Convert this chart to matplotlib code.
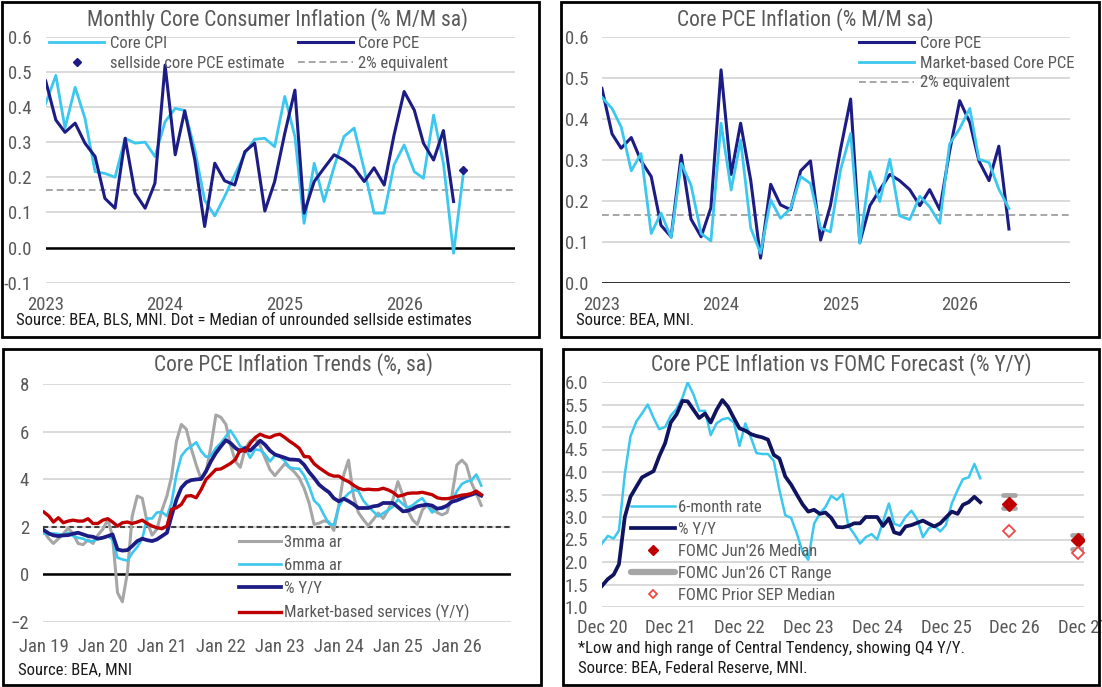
import matplotlib
matplotlib.use('Agg')
import matplotlib.pyplot as plt
import matplotlib.dates as mdates
from matplotlib import font_manager
from matplotlib.patches import Rectangle
from matplotlib.lines import Line2D
import pandas as pd

W, H = 1102, 687

# ---- panel 1 / 2: monthly m/m, from Jan 2023
core_pce = [0.474, 0.363, 0.328, 0.354, 0.297, 0.259, 0.140, 0.112, 0.311, 0.155, 0.112, 0.183,
            0.519, 0.264, 0.389, 0.249, 0.060, 0.240, 0.190, 0.178, 0.273, 0.297, 0.104, 0.188,
            0.325, 0.448, 0.098, 0.188, 0.226, 0.264, 0.249, 0.227, 0.188, 0.227, 0.178, 0.320,
            0.444, 0.391, 0.297, 0.249, 0.333, 0.131]
core_cpi = [0.410, 0.490, 0.340, 0.456, 0.368, 0.216, 0.211, 0.200, 0.311, 0.297, 0.300, 0.259,
            0.358, 0.396, 0.390, 0.278, 0.135, 0.090, 0.145, 0.207, 0.268, 0.308, 0.311, 0.287,
            0.430, 0.316, 0.069, 0.240, 0.131, 0.230, 0.316, 0.340, 0.221, 0.098, 0.098, 0.235,
            0.292, 0.216, 0.197, 0.377, 0.240, -0.016, 0.211]
market_pce = [0.452, 0.425, 0.380, 0.273, 0.315, 0.120, 0.170, 0.110, 0.291, 0.238, 0.120, 0.102,
              0.389, 0.226, 0.348, 0.133, 0.072, 0.202, 0.157, 0.181, 0.259, 0.242, 0.133, 0.124,
              0.275, 0.364, 0.096, 0.271, 0.198, 0.301, 0.163, 0.154, 0.211, 0.185, 0.145, 0.338,
              0.376, 0.425, 0.301, 0.293, 0.228, 0.181]
sellside_date = ['2026-07-01']
sellside_est = [0.22]
two_pct_mm = 0.165

# ---- panel 3: trends, from Jan 2019
gray3 = [1.80, 1.50, 1.30, 1.50, 1.70, 1.95, 1.70, 1.30, 1.25, 1.45, 1.30, 1.65,
         1.90, 2.30, 1.60, -0.77, -1.15, 0.07, 2.45, 3.29, 3.20, 2.20, 1.65, 1.90,
         2.70, 3.30, 4.10, 5.60, 6.30, 6.10, 5.30, 4.60, 4.00, 4.30, 5.40, 6.70,
         6.60, 6.30, 5.45, 4.75, 4.50, 5.30, 5.60, 5.70, 5.40, 4.90, 4.40, 4.15,
         4.40, 4.65, 4.50, 4.30, 4.05, 3.60, 3.00, 2.10, 2.15, 2.25, 2.20, 1.85,
         2.90, 4.20, 4.80, 3.30, 2.60, 2.30, 2.05, 2.30, 2.58, 2.35, 2.70, 3.15,
         3.90, 3.30, 2.70, 2.30, 2.10, 2.70, 2.93, 2.75, 2.60, 2.50, 2.60, 3.30,
         4.60, 4.80, 4.60, 3.85, 3.40, 2.90]
cyan3 = [1.72, 1.68, 1.72, 1.70, 1.64, 1.75, 1.61, 1.54, 1.50, 1.40, 1.40, 1.50,
         1.54, 1.61, 1.47, 0.70, 0.63, 0.58, 0.90, 1.15, 1.50, 2.35, 2.35, 2.60,
         2.62, 2.45, 3.00, 4.20, 4.97, 5.24, 5.38, 5.55, 5.17, 4.94, 4.99, 5.31,
         5.52, 5.80, 6.05, 5.73, 5.38, 5.30, 4.90, 5.25, 5.22, 5.04, 4.75, 5.00,
         4.95, 4.76, 4.50, 4.45, 4.44, 4.15, 3.70, 3.10, 2.90, 2.50, 2.13, 2.08,
         2.85, 3.20, 3.40, 3.56, 3.50, 3.10, 2.86, 2.65, 2.44, 2.57, 2.70, 2.85,
         3.15, 2.95, 2.80, 2.90, 3.07, 3.20, 2.90, 2.60, 2.78, 2.75, 2.85, 3.10,
         3.50, 3.80, 3.90, 3.95, 4.20, 3.73]
yy3 = [1.86, 1.72, 1.64, 1.61, 1.64, 1.65, 1.71, 1.75, 1.68, 1.61, 1.58, 1.50,
       1.54, 1.61, 1.68, 1.05, 1.00, 1.02, 1.19, 1.40, 1.50, 1.44, 1.40, 1.47,
       1.61, 1.75, 2.45, 3.15, 3.64, 3.87, 3.96, 3.99, 4.01, 4.34, 4.76, 5.10,
       5.38, 5.64, 5.52, 5.31, 5.17, 5.31, 5.20, 5.40, 5.62, 5.45, 5.20, 5.04,
       4.97, 4.90, 4.83, 4.82, 4.80, 4.60, 4.30, 4.05, 3.77, 3.60, 3.45, 3.20,
       3.07, 3.18, 3.08, 2.95, 2.79, 2.79, 2.79, 2.86, 2.89, 3.00, 3.00, 3.00,
       2.83, 2.65, 2.67, 2.75, 2.86, 2.90, 2.93, 2.89, 2.76, 2.80, 2.89, 3.05,
       3.11, 3.20, 3.28, 3.35, 3.42, 3.31]
red3 = [2.62, 2.45, 2.20, 2.38, 2.17, 2.24, 2.28, 2.24, 2.24, 2.34, 2.14, 2.14,
        2.28, 2.34, 2.20, 2.03, 2.17, 2.20, 2.14, 2.20, 2.28, 2.14, 2.03, 1.96,
        1.92, 2.03, 2.73, 2.80, 2.94, 3.29, 3.31, 3.22, 3.57, 3.99, 4.20, 4.41,
        4.43, 4.55, 4.66, 4.83, 5.24, 5.17, 5.50, 5.75, 5.89, 5.80, 5.75, 5.85,
        5.89, 5.75, 5.60, 5.46, 5.30, 4.95, 4.94, 4.65, 4.48, 4.34, 4.20, 4.13,
        4.13, 3.99, 3.90, 3.75, 3.62, 3.56, 3.58, 3.56, 3.56, 3.62, 3.55, 3.45,
        3.28, 3.33, 3.40, 3.42, 3.42, 3.45, 3.40, 3.35, 3.22, 3.18, 3.18, 3.22,
        3.28, 3.33, 3.35, 3.40, 3.50, 3.35]
target = 2.0

# ---- panel 4: vs FOMC, from Dec 2020
six4 = [2.41, 2.58, 2.52, 2.70, 3.95, 4.79, 5.12, 5.30, 5.50, 5.20, 4.95, 5.00,
        5.25, 5.40, 5.65, 5.99, 5.72, 5.36, 5.36, 4.82, 5.08, 5.17, 5.20, 5.10,
        4.58, 5.08, 4.75, 4.42, 4.40, 4.40, 4.25, 3.60, 3.04, 2.98, 2.64, 2.22,
        2.05, 2.85, 3.08, 3.22, 3.47, 3.38, 3.51, 2.80, 2.62, 2.41, 2.55, 2.62,
        2.50, 2.90, 3.30, 2.85, 2.80, 3.00, 3.14, 2.95, 2.55, 2.75, 2.80, 2.68,
        2.82, 3.30, 3.60, 3.84, 3.88, 4.18, 3.86]
yy4 = [1.47, 1.62, 1.72, 1.95, 3.00, 3.45, 3.67, 3.88, 3.95, 4.02, 4.35, 4.64,
       5.10, 5.28, 5.58, 5.57, 5.38, 5.20, 5.30, 5.10, 5.38, 5.60, 5.45, 5.20,
       4.97, 4.92, 4.84, 4.80, 4.77, 4.72, 4.38, 4.30, 3.90, 3.72, 3.50, 3.28,
       3.12, 3.16, 3.07, 3.10, 2.98, 2.78, 2.77, 2.80, 2.86, 2.86, 3.00, 3.00,
       3.00, 2.80, 2.97, 2.66, 2.62, 2.79, 2.82, 2.87, 2.92, 2.85, 2.79, 2.86,
       2.99, 3.12, 3.07, 3.27, 3.33, 3.45, 3.33]
sep_dates = ['2026-11-01', '2027-11-01']
jun_median = [3.3, 2.5]
ct_low = [3.2, 2.3]
ct_high = [3.5, 2.6]
prior_median = [2.7, 2.2]

CYAN = '#3CC8EE'
NAVY = '#1C1C84'
NAVY2 = '#10135E'
RED = '#C00000'
GRAY = '#A6A6A6'
GRID = '#D9D9D9'
TXT = '#595959'


def pick_font():
    names = {f.name for f in font_manager.fontManager.ttflist}
    for name in ['Liberation Sans Narrow', 'Roboto Condensed', 'Open Sans Condensed']:
        if name in names:
            return name, 1.0
    return 'Liberation Sans', 0.84


FONT, k = pick_font()
plt.rcParams['font.family'] = [FONT, 'DejaVu Sans']
TITLE_FS = 15.5 * k
TICK_FS = 13.5 * k
LEG_FS = 12 * k
SRC_FS = 12 * k

fig = plt.figure(figsize=(W / 100, H / 100), dpi=100)


def px_axes(left, top, right, bottom):
    return fig.add_axes([left / W, 1 - bottom / H, (right - left) / W, (bottom - top) / H])


def ftext(x, y, s, **kw):
    fig.text(x / W, 1 - y / H, s, va='center', **kw)


def style(ax, xpad):
    for sp in ax.spines.values():
        sp.set_visible(False)
    ax.yaxis.grid(True, color=GRID, lw=1.4)
    ax.set_axisbelow(True)
    ax.tick_params(length=0, labelsize=TICK_FS, labelcolor=TXT)
    ax.tick_params(axis='y', pad=10)
    ax.tick_params(axis='x', pad=xpad)


def legend_at(ax, handles, labels, x, y, **kw):
    leg = ax.legend(handles, labels, loc='upper left', bbox_to_anchor=(x / W, 1 - y / H),
                    bbox_transform=fig.transFigure, frameon=False, borderpad=0,
                    borderaxespad=0, fontsize=LEG_FS, **kw)
    for t in leg.get_texts():
        t.set_color(TXT)
    return leg


# panel borders
for (l, t, r, b) in [(2, 2, 539, 337), (561, 2, 1099, 337), (3, 349, 541, 685), (563, 349, 1099, 685)]:
    fig.add_artist(Rectangle((l / W, 1 - b / H), (r - l) / W, (b - t) / H, transform=fig.transFigure,
                             fill=False, ec='black', lw=2))

# ---------------- panel 1
d_pce = pd.date_range('2023-01-01', periods=len(core_pce), freq='MS')
d_cpi = pd.date_range('2023-01-01', periods=len(core_cpi), freq='MS')
ax1 = px_axes(45.7, 36.7, 514.7, 282.7)
style(ax1, 9.5)
ax1.axhline(0, color='black', lw=1.8, zorder=1)
h_2 = ax1.axhline(two_pct_mm, color=GRAY, lw=1.4, dashes=(3.5, 2), zorder=1)
h_cpi, = ax1.plot(d_cpi, core_cpi, color=CYAN, lw=2.0)
h_pce, = ax1.plot(d_pce, core_pce, color=NAVY, lw=2.2)
h_est, = ax1.plot(pd.to_datetime(sellside_date), sellside_est, 'D', color=NAVY, ms=4.5, ls='none')
ax1.set_ylim(-0.1, 0.6)
ax1.set_yticks([-0.1, 0.0, 0.1, 0.2, 0.3, 0.4, 0.5, 0.6])
ax1.yaxis.set_major_formatter(matplotlib.ticker.FormatStrFormatter('%.1f'))
ax1.set_xlim(pd.Timestamp('2023-01-01'), pd.Timestamp('2026-12-05'))
ax1.xaxis.set_major_locator(mdates.YearLocator())
ax1.xaxis.set_major_formatter(mdates.DateFormatter('%Y'))
legend_at(ax1, [h_cpi, h_est, h_pce, h_2],
          ['Core CPI', 'sellside core PCE estimate', 'Core PCE', '2% equivalent'],
          49, 36, ncol=2, handlelength=3.3, handletextpad=0.35, columnspacing=0.8,
          labelspacing=0.28, numpoints=1)
ftext(277.6, 20, 'Monthly Core Consumer Inflation (% M/M sa)', ha='center', fontsize=TITLE_FS, color=TXT)
ftext(16, 320, 'Source: BEA, BLS, MNI. Dot = Median of unrounded sellside estimates', ha='left',
      fontsize=SRC_FS, color='#1A1A1A')

# ---------------- panel 2
d_mkt = pd.date_range('2023-01-01', periods=len(market_pce), freq='MS')
ax2 = px_axes(601.9, 36.7, 1070, 282.7)
style(ax2, 9.5)
ax2.axhline(0, color='black', lw=1.8, zorder=1)
h2_2 = ax2.axhline(two_pct_mm, color=GRAY, lw=1.4, dashes=(3.5, 2), zorder=1)
h2_pce, = ax2.plot(d_pce, core_pce, color=NAVY, lw=2.2)
h2_mkt, = ax2.plot(d_mkt, market_pce, color=CYAN, lw=2.0)
ax2.set_ylim(0, 0.6)
ax2.set_yticks([0.0, 0.1, 0.2, 0.3, 0.4, 0.5, 0.6])
ax2.yaxis.set_major_formatter(matplotlib.ticker.FormatStrFormatter('%.1f'))
ax2.set_xlim(pd.Timestamp('2023-01-01'), pd.Timestamp('2026-12-05'))
ax2.xaxis.set_major_locator(mdates.YearLocator())
ax2.xaxis.set_major_formatter(mdates.DateFormatter('%Y'))
legend_at(ax2, [h2_pce, h2_mkt, h2_2], ['Core PCE', 'Market-based Core PCE', '2% equivalent'],
          859, 36, handlelength=3.3, handletextpad=0.35, labelspacing=0.28)
ftext(805.7, 20, 'Core PCE Inflation (% M/M sa)', ha='center', fontsize=TITLE_FS, color=TXT)
ftext(576, 320, 'Source: BEA, MNI.', ha='left', fontsize=SRC_FS, color='#1A1A1A')

# ---------------- panel 3
d3 = pd.date_range('2019-01-01', periods=len(yy3), freq='MS')
ax3 = px_axes(42.9, 384, 511, 622)
style(ax3, 11.5)
ax3.axhline(0, color='black', lw=1.8, zorder=1)
ax3.axhline(target, color='#404040', lw=1.5, dashes=(2.5, 1.6), zorder=1)
h3_g, = ax3.plot(d3, gray3, color=GRAY, lw=2.2)
h3_c, = ax3.plot(d3, cyan3, color=CYAN, lw=1.9)
h3_n, = ax3.plot(d3, yy3, color=NAVY, lw=2.7)
h3_r, = ax3.plot(d3, red3, color=RED, lw=2.4)
ax3.set_ylim(-2, 8)
ax3.set_yticks([-2, 0, 2, 4, 6, 8])
ax3.set_xlim(pd.Timestamp('2018-12-26'), pd.Timestamp('2026-12-02'))
ax3.xaxis.set_major_locator(mdates.YearLocator())
ax3.xaxis.set_major_formatter(mdates.DateFormatter('%b %y'))
legend_at(ax3, [h3_g, h3_c, h3_n, h3_r], ['3mma ar', '6mma ar', '% Y/Y', 'Market-based services (Y/Y)'],
          239, 535, handlelength=2.5, handletextpad=0.2, labelspacing=0.48)
ftext(293, 365, 'Core PCE Inflation Trends (%, sa)', ha='center', fontsize=TITLE_FS, color=TXT)
ftext(18, 670, 'Source: BEA, MNI', ha='left', fontsize=SRC_FS, color='#1A1A1A')

# ---------------- panel 4
d4 = pd.date_range('2020-12-01', periods=len(yy4), freq='MS')
ds = pd.to_datetime(sep_dates)
ax4 = px_axes(602, 382, 1084, 607)
style(ax4, 8.5)
h4_c, = ax4.plot(d4, six4, color=CYAN, lw=1.8)
h4_n, = ax4.plot(d4, yy4, color=NAVY2, lw=2.7)
half = pd.Timedelta(days=30)
ax4.hlines(ct_high, ds - half, ds + half, colors=GRAY, lw=3.4, capstyle='round', zorder=3)
ax4.hlines(ct_low, ds - half, ds + half, colors=GRAY, lw=3.4, capstyle='round', zorder=3)
h4_m, = ax4.plot(ds, jun_median, 'D', color=RED, ms=7.5, ls='none', zorder=4)
h4_p, = ax4.plot(ds, prior_median, 'D', mfc='white', mec='#F04848', mew=1.3, ms=6.2, ls='none', zorder=4)
h4_ct = Line2D([], [], color=GRAY, lw=4.5, solid_capstyle='round')
ax4.set_ylim(1.0, 6.0)
ax4.set_yticks([1.0, 1.5, 2.0, 2.5, 3.0, 3.5, 4.0, 4.5, 5.0, 5.5, 6.0])
ax4.yaxis.set_major_formatter(matplotlib.ticker.FormatStrFormatter('%.1f'))
ax4.set_xlim(pd.Timestamp('2020-12-01'), pd.Timestamp('2027-12-04'))
ax4.xaxis.set_major_locator(mdates.MonthLocator(bymonth=12))
ax4.xaxis.set_major_formatter(mdates.DateFormatter('%b %y'))
legend_at(ax4, [h4_c, h4_n, h4_m, h4_ct, h4_p],
          ['6-month rate', '% Y/Y', "FOMC Jun'26 Median", "FOMC Jun'26 CT Range", 'FOMC Prior SEP Median'],
          631, 500, handlelength=2.65, handletextpad=0.15, labelspacing=0.42, numpoints=1, markerscale=0.65)
ftext(841.6, 365, 'Core PCE Inflation vs FOMC Forecast (% Y/Y)', ha='center', fontsize=TITLE_FS, color=TXT)
ftext(578, 648, '*Low and high range of Central Tendency, showing Q4 Y/Y.', ha='left', fontsize=SRC_FS,
      color='#1A1A1A')
ftext(578, 668, 'Source: BEA, Federal Reserve, MNI.', ha='left', fontsize=SRC_FS, color='#1A1A1A')

fig.savefig('out.png', dpi=100)
